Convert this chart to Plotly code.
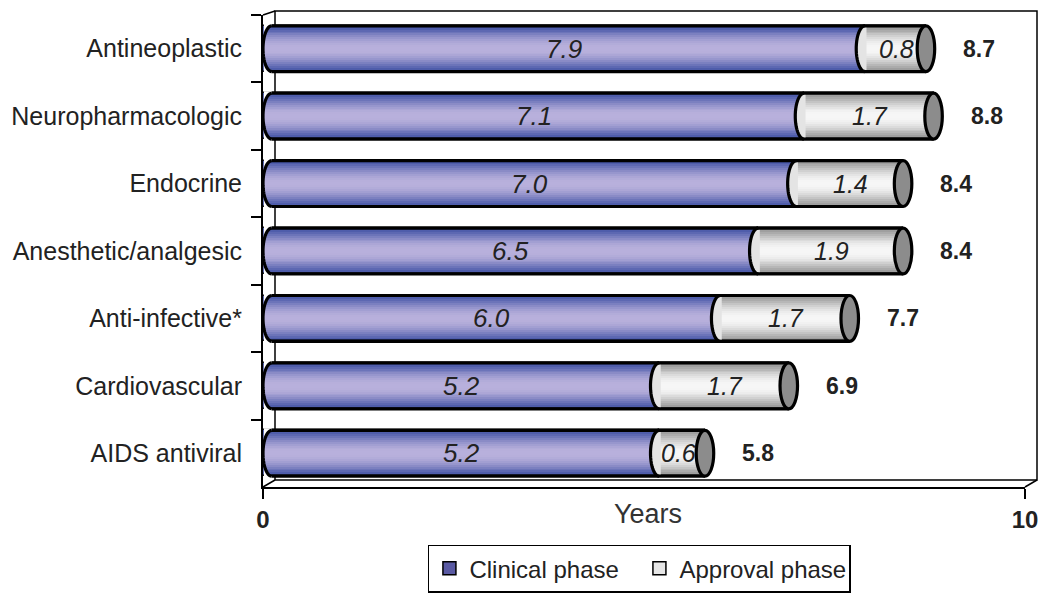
import numpy as np
import plotly.graph_objects as go

# ---------------- data ----------------
categories = ["Antineoplastic", "Neuropharmacologic", "Endocrine",
              "Anesthetic/analgesic", "Anti-infective*", "Cardiovascular",
              "AIDS antiviral"]
clinical_years = [7.9, 7.1, 7.0, 6.5, 6.0, 5.2, 5.2]
approval_years = [0.8, 1.7, 1.4, 1.9, 1.7, 1.7, 0.6]
total_years = [8.7, 8.8, 8.4, 8.4, 7.7, 6.9, 5.8]
series_names = ["Clinical phase", "Approval phase"]
x_tick_values = [0, 10]
x_tick_labels = ["0", "10"]
x_title = "Years"

# ---------------- style ----------------
FONT = "Liberation Sans, Arial, Helvetica, sans-serif"
TXT = "#222222"
BAR_W = 0.68
H = BAR_W / 2
CAP_A = 0.115
LABEL_HALF = 0.25
N_BANDS = 12
CLIN_EDGE, CLIN_MID = (68, 84, 166), (184, 176, 220)
APPR_EDGE, APPR_MID = (150, 150, 150), (246, 246, 246)
CAP_FILL = "#8c8c8c"
LEG_CLIN = "#5a5aa3"
LEG_APPR = "#e6e6e6"


def band_styles(edge, mid):
    out = []
    for k in range(N_BANDS):
        w = BAR_W * (1 - k / N_BANDS)
        f = np.sin(0.5 * np.pi * (k / (N_BANDS - 1))) ** 1.2
        col = tuple(int(round(e + (m - e) * f)) for e, m in zip(edge, mid))
        out.append((w, "rgb(%d,%d,%d)" % col))
    return out


clin = np.array(clinical_years, dtype=float)
appr = np.array(approval_years, dtype=float)
ends = clin + appr
n = len(categories)

fig = go.Figure()

# clinical segments (stacked lighter bands give a cylinder look)
for k, (w, c) in enumerate(band_styles(CLIN_EDGE, CLIN_MID)):
    fig.add_trace(go.Bar(y=categories, x=clin, base=0, orientation="h", width=w,
                         marker=dict(color=c, line=dict(color="black",
                                                        width=1.5 if k == 0 else 0)),
                         name=series_names[0], showlegend=False, hoverinfo="skip"))
# approval segments
for k, (w, c) in enumerate(band_styles(APPR_EDGE, APPR_MID)):
    fig.add_trace(go.Bar(y=categories, x=appr, base=clin, orientation="h", width=w,
                         marker=dict(color=c, line=dict(color="black",
                                                        width=1.5 if k == 0 else 0)),
                         name=series_names[1], showlegend=False, hoverinfo="skip"))

# legend entries
for name, col in zip(series_names, [LEG_CLIN, LEG_APPR]):
    fig.add_trace(go.Scatter(x=[None], y=[None], mode="markers", name=name,
                             yaxis="y2",
                             marker=dict(symbol="square", size=13, color=col,
                                         line=dict(color="black", width=1.5))))


def path_from(points, close=True):
    s = "M " + " L ".join(f"{px:.5f},{py:.5f}" for px, py in points)
    return s + (" Z" if close else "")


def left_arc(cx, cy, a, h, num=24):
    t = np.linspace(-np.pi / 2, np.pi / 2, num)
    return [(cx - a * np.cos(tt), cy + h * np.sin(tt)) for tt in t]


shapes = []
# back wall of the pseudo-3D frame
dx, dyt, dyb = 12 / 762, 4 / 472, 7 / 472
wall = dict(color="black", width=1.5)
shapes.append(dict(type="rect", xref="paper", yref="paper", x0=dx, x1=1 + dx,
                   y0=dyb, y1=1 + dyt, line=wall, layer="below"))
for (x0, y0, x1, y1) in [(0, 1, dx, 1 + dyt), (0, 0, dx, dyb), (1, 0, 1 + dx, dyb)]:
    shapes.append(dict(type="line", xref="paper", yref="paper", x0=x0, y0=y0,
                       x1=x1, y1=y1, line=wall, layer="below"))

outline = dict(color="black", width=3.2)
for i in range(n):
    yc = float(i)
    c = clin[i]
    e = ends[i]
    # white corners -> rounded left end
    arc0 = left_arc(CAP_A, yc, CAP_A, H)
    pts = [(0.012, yc - H - 0.03), (CAP_A, yc - H - 0.03)] + arc0 + \
          [(CAP_A, yc + H + 0.03), (0.012, yc + H + 0.03)]
    shapes.append(dict(type="path", xref="x", yref="y2", path=path_from(pts),
                       fillcolor="white", line=dict(width=0), layer="above"))
    # approval segment's rounded left face over the clinical segment
    arcb = left_arc(c, yc, CAP_A, H)
    ptsb = arcb + [(c + 0.02, yc + H), (c + 0.02, yc - H)]
    shapes.append(dict(type="path", xref="x", yref="y2", path=path_from(ptsb),
                       fillcolor="#e4e4e4", line=dict(width=0), layer="above"))
    # outlines
    for yy in (yc - H, yc + H):
        shapes.append(dict(type="line", xref="x", yref="y2", x0=CAP_A, x1=e,
                           y0=yy, y1=yy, line=outline, layer="above"))
    shapes.append(dict(type="path", xref="x", yref="y2", path=path_from(arc0, False),
                       line=outline, layer="above"))
    shapes.append(dict(type="path", xref="x", yref="y2", path=path_from(arcb, False),
                       line=outline, layer="above"))
    # end cap
    shapes.append(dict(type="circle", xref="x", yref="y2", x0=e - CAP_A, x1=e + CAP_A,
                       y0=yc - H, y1=yc + H, fillcolor=CAP_FILL, line=outline,
                       layer="above"))

annotations = []
for i, cat in enumerate(categories):
    annotations.append(dict(x=clin[i] / 2, y=cat, xref="x", yref="y",
                            text=f"<i>{clinical_years[i]:.1f}</i>", showarrow=False,
                            font=dict(size=26, color=TXT, family=FONT)))
    ax = min(clin[i] + appr[i] / 2, ends[i] - CAP_A - LABEL_HALF)
    annotations.append(dict(x=ax, y=cat, xref="x", yref="y",
                            xshift=1, text=f"<i>{approval_years[i]:.1f}</i>",
                            showarrow=False,
                            font=dict(size=25, color=TXT, family=FONT)))
    annotations.append(dict(x=ends[i], y=cat, xref="x", yref="y", xanchor="left",
                            xshift=35, text=f"<b>{total_years[i]:.1f}</b>",
                            showarrow=False,
                            font=dict(size=23, color=TXT, family=FONT)))
annotations.append(dict(x=0.505, y=-0.057, xref="paper", yref="paper",
                        text=x_title, showarrow=False, yanchor="middle",
                        font=dict(size=27, color="#333333", family=FONT)))

fig.update_layout(
    width=1050, height=596,
    margin=dict(l=263, r=25, t=15, b=109, autoexpand=False),
    paper_bgcolor="white", plot_bgcolor="rgba(0,0,0,0)",
    barmode="overlay", bargap=0,
    font=dict(family=FONT, color=TXT, size=25),
    xaxis=dict(range=[0, 10], tickvals=x_tick_values, ticktext=x_tick_labels,
               showgrid=False, zeroline=False, showline=True, linecolor="black",
               linewidth=2, ticks="outside", ticklen=10, tickwidth=2,
               tickcolor="black", automargin=False,
               tickfont=dict(size=24, color=TXT, family=FONT, weight="bold")),
    yaxis=dict(type="category", categoryorder="array", categoryarray=categories,
               range=[n - 0.5, -0.5], showgrid=False, zeroline=False,
               showline=True, linecolor="black", linewidth=2, ticks="outside",
               tickson="boundaries", ticklen=10, tickwidth=2, tickcolor="black",
               ticklabelstandoff=14, automargin=False,
               tickfont=dict(size=25, color=TXT, family=FONT)),
    yaxis2=dict(overlaying="y", range=[n - 0.5, -0.5], visible=False,
                showgrid=False, zeroline=False),
    showlegend=True,
    legend=dict(orientation="h", x=0.494, y=-0.122, xanchor="center",
                yanchor="top", bordercolor="black", borderwidth=1.5,
                bgcolor="white", entrywidth=165, itemwidth=30,
                font=dict(size=24, color=TXT, family=FONT)),
    shapes=shapes,
    annotations=annotations,
)

fig.write_html("out.html", config={"displayModeBar": False},
               post_script="document.body.style.margin='0px';")
